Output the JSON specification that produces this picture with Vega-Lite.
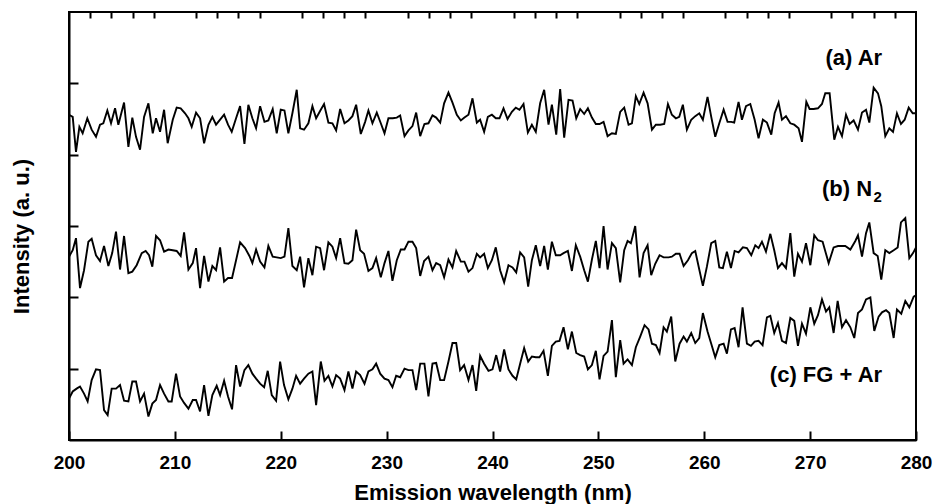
{
"$schema":"https://vega.github.io/schema/vega-lite/v6.json",
"width":847,"height":428,
"autosize":{"type":"none"},
"padding":{"left":69,"top":12,"right":19,"bottom":64},
"background":"white",
"config":{"view":{"stroke":"black","strokeWidth":2},"font":"Liberation Sans",
"axis":{"domainColor":"black","domainWidth":2,"tickColor":"black","tickWidth":2,"grid":false,"labelFont":"Liberation Sans","labelFontWeight":"bold","labelFontSize":19,"labelColor":"black","titleFont":"Liberation Sans","titleFontWeight":"bold","titleFontSize":22,"titleColor":"black"}},
"datasets":{
"labels":[{"label":"(a) Ar","nm":276.8,"intensity":5.36},{"label":"(b) N","nm":275.85,"intensity":3.52},{"label":"(c) FG + Ar","nm":276.8,"intensity":0.91}],
"subscripts":[{"label":"2","nm":275.9,"intensity":3.52}],
"spectra":[
{"series":"Ar","nm":200.0,"intensity":4.56},{"series":"Ar","nm":200.35,"intensity":4.53},{"series":"Ar","nm":200.66,"intensity":4.04},{"series":"Ar","nm":200.98,"intensity":4.39},{"series":"Ar","nm":201.29,"intensity":4.30},{"series":"Ar","nm":201.73,"intensity":4.51},{"series":"Ar","nm":202.14,"intensity":4.35},{"series":"Ar","nm":202.55,"intensity":4.25},{"series":"Ar","nm":202.93,"intensity":4.42},{"series":"Ar","nm":203.24,"intensity":4.44},{"series":"Ar","nm":203.62,"intensity":4.62},{"series":"Ar","nm":203.97,"intensity":4.44},{"series":"Ar","nm":204.35,"intensity":4.65},{"series":"Ar","nm":204.66,"intensity":4.42},{"series":"Ar","nm":205.20,"intensity":4.73},{"series":"Ar","nm":205.61,"intensity":4.11},{"series":"Ar","nm":205.98,"intensity":4.52},{"series":"Ar","nm":206.33,"intensity":4.25},{"series":"Ar","nm":206.71,"intensity":4.07},{"series":"Ar","nm":207.09,"intensity":4.53},{"series":"Ar","nm":207.50,"intensity":4.72},{"series":"Ar","nm":207.91,"intensity":4.30},{"series":"Ar","nm":208.22,"intensity":4.51},{"series":"Ar","nm":208.60,"intensity":4.32},{"series":"Ar","nm":208.98,"intensity":4.63},{"series":"Ar","nm":209.32,"intensity":4.16},{"series":"Ar","nm":209.80,"intensity":4.49},{"series":"Ar","nm":210.17,"intensity":4.66},{"series":"Ar","nm":210.55,"intensity":4.65},{"series":"Ar","nm":210.96,"intensity":4.58},{"series":"Ar","nm":211.28,"intensity":4.51},{"series":"Ar","nm":211.59,"intensity":4.39},{"series":"Ar","nm":212.00,"intensity":4.59},{"series":"Ar","nm":212.38,"intensity":4.51},{"series":"Ar","nm":212.76,"intensity":4.16},{"series":"Ar","nm":213.17,"intensity":4.42},{"series":"Ar","nm":213.54,"intensity":4.53},{"series":"Ar","nm":213.89,"intensity":4.42},{"series":"Ar","nm":214.27,"intensity":4.49},{"series":"Ar","nm":214.65,"intensity":4.56},{"series":"Ar","nm":215.02,"intensity":4.42},{"series":"Ar","nm":215.37,"intensity":4.32},{"series":"Ar","nm":215.78,"intensity":4.51},{"series":"Ar","nm":216.16,"intensity":4.68},{"series":"Ar","nm":216.57,"intensity":4.15},{"series":"Ar","nm":216.94,"intensity":4.70},{"series":"Ar","nm":217.32,"intensity":4.51},{"series":"Ar","nm":217.67,"intensity":4.37},{"series":"Ar","nm":218.05,"intensity":4.68},{"series":"Ar","nm":218.46,"intensity":4.46},{"series":"Ar","nm":218.83,"intensity":4.48},{"series":"Ar","nm":219.24,"intensity":4.64},{"series":"Ar","nm":219.62,"intensity":4.30},{"series":"Ar","nm":220.00,"intensity":4.63},{"series":"Ar","nm":220.35,"intensity":4.62},{"series":"Ar","nm":220.72,"intensity":4.30},{"series":"Ar","nm":221.10,"intensity":4.58},{"series":"Ar","nm":221.51,"intensity":4.91},{"series":"Ar","nm":221.83,"intensity":4.37},{"series":"Ar","nm":222.20,"intensity":4.35},{"series":"Ar","nm":222.61,"intensity":4.44},{"series":"Ar","nm":222.99,"intensity":4.68},{"series":"Ar","nm":223.34,"intensity":4.51},{"series":"Ar","nm":223.78,"intensity":4.63},{"series":"Ar","nm":224.09,"intensity":4.71},{"series":"Ar","nm":224.50,"intensity":4.45},{"series":"Ar","nm":224.88,"intensity":4.44},{"series":"Ar","nm":225.23,"intensity":4.34},{"series":"Ar","nm":225.61,"intensity":4.64},{"series":"Ar","nm":226.02,"intensity":4.44},{"series":"Ar","nm":226.39,"intensity":4.48},{"series":"Ar","nm":226.77,"intensity":4.54},{"series":"Ar","nm":227.12,"intensity":4.70},{"series":"Ar","nm":227.56,"intensity":4.29},{"series":"Ar","nm":227.97,"intensity":4.46},{"series":"Ar","nm":228.28,"intensity":4.62},{"series":"Ar","nm":228.66,"intensity":4.44},{"series":"Ar","nm":229.07,"intensity":4.59},{"series":"Ar","nm":229.45,"intensity":4.44},{"series":"Ar","nm":229.80,"intensity":4.30},{"series":"Ar","nm":230.17,"intensity":4.51},{"series":"Ar","nm":230.58,"intensity":4.51},{"series":"Ar","nm":230.96,"intensity":4.52},{"series":"Ar","nm":231.28,"intensity":4.55},{"series":"Ar","nm":231.69,"intensity":4.26},{"series":"Ar","nm":232.06,"intensity":4.34},{"series":"Ar","nm":232.44,"intensity":4.40},{"series":"Ar","nm":232.79,"intensity":4.59},{"series":"Ar","nm":233.17,"intensity":4.26},{"series":"Ar","nm":233.57,"intensity":4.43},{"series":"Ar","nm":233.95,"intensity":4.44},{"series":"Ar","nm":234.33,"intensity":4.55},{"series":"Ar","nm":234.68,"intensity":4.52},{"series":"Ar","nm":235.06,"intensity":4.45},{"series":"Ar","nm":235.43,"intensity":4.72},{"series":"Ar","nm":235.84,"intensity":4.87},{"series":"Ar","nm":236.22,"intensity":4.73},{"series":"Ar","nm":236.63,"intensity":4.56},{"series":"Ar","nm":237.01,"intensity":4.48},{"series":"Ar","nm":237.35,"intensity":4.52},{"series":"Ar","nm":237.73,"intensity":4.56},{"series":"Ar","nm":238.11,"intensity":4.79},{"series":"Ar","nm":238.52,"intensity":4.45},{"series":"Ar","nm":238.83,"intensity":4.49},{"series":"Ar","nm":239.21,"intensity":4.32},{"series":"Ar","nm":239.56,"intensity":4.53},{"series":"Ar","nm":239.94,"intensity":4.56},{"series":"Ar","nm":240.31,"intensity":4.51},{"series":"Ar","nm":240.66,"intensity":4.51},{"series":"Ar","nm":241.04,"intensity":4.65},{"series":"Ar","nm":241.42,"intensity":4.50},{"series":"Ar","nm":241.83,"intensity":4.60},{"series":"Ar","nm":242.20,"intensity":4.66},{"series":"Ar","nm":242.55,"intensity":4.63},{"series":"Ar","nm":242.93,"intensity":4.71},{"series":"Ar","nm":243.34,"intensity":4.31},{"series":"Ar","nm":243.72,"intensity":4.42},{"series":"Ar","nm":244.09,"intensity":4.32},{"series":"Ar","nm":244.50,"intensity":4.72},{"series":"Ar","nm":244.88,"intensity":4.91},{"series":"Ar","nm":245.29,"intensity":4.42},{"series":"Ar","nm":245.61,"intensity":4.70},{"series":"Ar","nm":246.02,"intensity":4.28},{"series":"Ar","nm":246.39,"intensity":4.92},{"series":"Ar","nm":246.77,"intensity":4.24},{"series":"Ar","nm":247.18,"intensity":4.77},{"series":"Ar","nm":247.56,"intensity":4.76},{"series":"Ar","nm":247.91,"intensity":4.51},{"series":"Ar","nm":248.28,"intensity":4.64},{"series":"Ar","nm":248.66,"intensity":4.57},{"series":"Ar","nm":249.01,"intensity":4.65},{"series":"Ar","nm":249.39,"intensity":4.52},{"series":"Ar","nm":249.76,"intensity":4.43},{"series":"Ar","nm":250.11,"intensity":4.43},{"series":"Ar","nm":250.49,"intensity":4.46},{"series":"Ar","nm":250.87,"intensity":4.26},{"series":"Ar","nm":251.28,"intensity":4.30},{"series":"Ar","nm":251.65,"intensity":4.29},{"series":"Ar","nm":252.06,"intensity":4.60},{"series":"Ar","nm":252.44,"intensity":4.66},{"series":"Ar","nm":252.85,"intensity":4.42},{"series":"Ar","nm":253.17,"intensity":4.44},{"series":"Ar","nm":253.54,"intensity":4.82},{"series":"Ar","nm":253.86,"intensity":4.71},{"series":"Ar","nm":254.27,"intensity":4.87},{"series":"Ar","nm":254.65,"intensity":4.72},{"series":"Ar","nm":255.06,"intensity":4.35},{"series":"Ar","nm":255.43,"intensity":4.42},{"series":"Ar","nm":255.84,"intensity":4.42},{"series":"Ar","nm":256.22,"intensity":4.43},{"series":"Ar","nm":256.57,"intensity":4.71},{"series":"Ar","nm":256.94,"intensity":4.56},{"series":"Ar","nm":257.32,"intensity":4.51},{"series":"Ar","nm":257.64,"intensity":4.53},{"series":"Ar","nm":257.98,"intensity":4.70},{"series":"Ar","nm":258.36,"intensity":4.35},{"series":"Ar","nm":258.77,"intensity":4.49},{"series":"Ar","nm":259.15,"intensity":4.54},{"series":"Ar","nm":259.53,"intensity":4.58},{"series":"Ar","nm":259.87,"intensity":4.49},{"series":"Ar","nm":260.31,"intensity":4.81},{"series":"Ar","nm":260.66,"intensity":4.53},{"series":"Ar","nm":261.04,"intensity":4.25},{"series":"Ar","nm":261.42,"intensity":4.44},{"series":"Ar","nm":261.83,"intensity":4.63},{"series":"Ar","nm":262.20,"intensity":4.46},{"series":"Ar","nm":262.55,"intensity":4.46},{"series":"Ar","nm":262.83,"intensity":4.45},{"series":"Ar","nm":263.24,"intensity":4.74},{"series":"Ar","nm":263.56,"intensity":4.49},{"series":"Ar","nm":263.94,"intensity":4.68},{"series":"Ar","nm":264.35,"intensity":4.71},{"series":"Ar","nm":264.76,"intensity":4.49},{"series":"Ar","nm":265.13,"intensity":4.23},{"series":"Ar","nm":265.54,"intensity":4.49},{"series":"Ar","nm":265.92,"intensity":4.45},{"series":"Ar","nm":266.33,"intensity":4.28},{"series":"Ar","nm":266.65,"intensity":4.58},{"series":"Ar","nm":267.02,"intensity":4.73},{"series":"Ar","nm":267.34,"intensity":4.49},{"series":"Ar","nm":267.72,"intensity":4.54},{"series":"Ar","nm":268.13,"intensity":4.44},{"series":"Ar","nm":268.50,"intensity":4.42},{"series":"Ar","nm":268.91,"intensity":4.37},{"series":"Ar","nm":269.23,"intensity":4.18},{"series":"Ar","nm":269.64,"intensity":4.74},{"series":"Ar","nm":269.95,"intensity":4.64},{"series":"Ar","nm":270.33,"intensity":4.64},{"series":"Ar","nm":270.74,"intensity":4.65},{"series":"Ar","nm":271.12,"intensity":4.71},{"series":"Ar","nm":271.43,"intensity":4.86},{"series":"Ar","nm":271.84,"intensity":4.86},{"series":"Ar","nm":272.28,"intensity":4.21},{"series":"Ar","nm":272.63,"intensity":4.39},{"series":"Ar","nm":273.01,"intensity":4.26},{"series":"Ar","nm":273.39,"intensity":4.56},{"series":"Ar","nm":273.73,"intensity":4.43},{"series":"Ar","nm":274.11,"intensity":4.48},{"series":"Ar","nm":274.52,"intensity":4.35},{"series":"Ar","nm":274.90,"intensity":4.59},{"series":"Ar","nm":275.28,"intensity":4.63},{"series":"Ar","nm":275.59,"intensity":4.45},{"series":"Ar","nm":276.00,"intensity":4.94},{"series":"Ar","nm":276.41,"intensity":4.86},{"series":"Ar","nm":276.72,"intensity":4.68},{"series":"Ar","nm":277.10,"intensity":4.26},{"series":"Ar","nm":277.48,"intensity":4.37},{"series":"Ar","nm":277.83,"intensity":4.32},{"series":"Ar","nm":278.20,"intensity":4.58},{"series":"Ar","nm":278.58,"intensity":4.43},{"series":"Ar","nm":278.93,"intensity":4.49},{"series":"Ar","nm":279.31,"intensity":4.66},{"series":"Ar","nm":279.69,"intensity":4.58},{"series":"Ar","nm":280.00,"intensity":4.58},
{"series":"N2","nm":200.0,"intensity":2.57},{"series":"N2","nm":200.35,"intensity":2.66},{"series":"N2","nm":200.66,"intensity":2.83},{"series":"N2","nm":201.04,"intensity":2.13},{"series":"N2","nm":201.42,"intensity":2.38},{"series":"N2","nm":201.83,"intensity":2.78},{"series":"N2","nm":202.14,"intensity":2.82},{"series":"N2","nm":202.55,"intensity":2.59},{"series":"N2","nm":202.93,"intensity":2.51},{"series":"N2","nm":203.31,"intensity":2.72},{"series":"N2","nm":203.72,"intensity":2.44},{"series":"N2","nm":204.08,"intensity":2.62},{"series":"N2","nm":204.44,"intensity":2.92},{"series":"N2","nm":204.82,"intensity":2.39},{"series":"N2","nm":205.20,"intensity":2.86},{"series":"N2","nm":205.61,"intensity":2.34},{"series":"N2","nm":205.98,"intensity":2.36},{"series":"N2","nm":206.39,"intensity":2.45},{"series":"N2","nm":206.87,"intensity":2.62},{"series":"N2","nm":207.24,"intensity":2.65},{"series":"N2","nm":207.56,"intensity":2.59},{"series":"N2","nm":207.87,"intensity":2.43},{"series":"N2","nm":208.22,"intensity":2.86},{"series":"N2","nm":208.60,"intensity":2.80},{"series":"N2","nm":208.98,"intensity":2.64},{"series":"N2","nm":209.39,"intensity":2.67},{"series":"N2","nm":209.80,"intensity":2.66},{"series":"N2","nm":210.17,"intensity":2.65},{"series":"N2","nm":210.55,"intensity":2.58},{"series":"N2","nm":210.87,"intensity":2.91},{"series":"N2","nm":211.28,"intensity":2.39},{"series":"N2","nm":211.69,"intensity":2.48},{"series":"N2","nm":212.00,"intensity":2.69},{"series":"N2","nm":212.38,"intensity":2.13},{"series":"N2","nm":212.76,"intensity":2.58},{"series":"N2","nm":213.17,"intensity":2.22},{"series":"N2","nm":213.54,"intensity":2.44},{"series":"N2","nm":213.89,"intensity":2.38},{"series":"N2","nm":214.27,"intensity":2.70},{"series":"N2","nm":214.65,"intensity":2.22},{"series":"N2","nm":215.02,"intensity":2.27},{"series":"N2","nm":215.40,"intensity":2.27},{"series":"N2","nm":216.16,"intensity":2.77},{"series":"N2","nm":216.63,"intensity":2.69},{"series":"N2","nm":217.04,"intensity":2.58},{"series":"N2","nm":217.32,"intensity":2.48},{"series":"N2","nm":217.67,"intensity":2.67},{"series":"N2","nm":218.05,"intensity":2.50},{"series":"N2","nm":218.46,"intensity":2.42},{"series":"N2","nm":218.83,"intensity":2.72},{"series":"N2","nm":219.24,"intensity":2.57},{"series":"N2","nm":219.62,"intensity":2.56},{"series":"N2","nm":220.00,"intensity":2.55},{"series":"N2","nm":220.35,"intensity":2.57},{"series":"N2","nm":220.72,"intensity":2.97},{"series":"N2","nm":221.10,"intensity":2.44},{"series":"N2","nm":221.51,"intensity":2.38},{"series":"N2","nm":221.83,"intensity":2.57},{"series":"N2","nm":222.20,"intensity":2.14},{"series":"N2","nm":222.61,"intensity":2.55},{"series":"N2","nm":222.99,"intensity":2.31},{"series":"N2","nm":223.34,"intensity":2.71},{"series":"N2","nm":223.72,"intensity":2.69},{"series":"N2","nm":224.09,"intensity":2.38},{"series":"N2","nm":224.50,"intensity":2.77},{"series":"N2","nm":224.88,"intensity":2.71},{"series":"N2","nm":225.23,"intensity":2.55},{"series":"N2","nm":225.61,"intensity":2.83},{"series":"N2","nm":226.02,"intensity":2.48},{"series":"N2","nm":226.39,"intensity":2.47},{"series":"N2","nm":226.77,"intensity":2.52},{"series":"N2","nm":227.12,"intensity":2.95},{"series":"N2","nm":227.50,"intensity":2.66},{"series":"N2","nm":227.87,"intensity":2.61},{"series":"N2","nm":228.28,"intensity":2.37},{"series":"N2","nm":228.66,"intensity":2.41},{"series":"N2","nm":229.01,"intensity":2.55},{"series":"N2","nm":229.45,"intensity":2.28},{"series":"N2","nm":229.80,"intensity":2.48},{"series":"N2","nm":230.17,"intensity":2.65},{"series":"N2","nm":230.55,"intensity":2.23},{"series":"N2","nm":230.96,"intensity":2.52},{"series":"N2","nm":231.34,"intensity":2.67},{"series":"N2","nm":231.69,"intensity":2.67},{"series":"N2","nm":232.06,"intensity":2.78},{"series":"N2","nm":232.44,"intensity":2.78},{"series":"N2","nm":232.79,"intensity":2.69},{"series":"N2","nm":233.17,"intensity":2.30},{"series":"N2","nm":233.54,"intensity":2.51},{"series":"N2","nm":233.95,"intensity":2.57},{"series":"N2","nm":234.33,"intensity":2.38},{"series":"N2","nm":234.68,"intensity":2.48},{"series":"N2","nm":235.06,"intensity":2.45},{"series":"N2","nm":235.43,"intensity":2.28},{"series":"N2","nm":235.84,"intensity":2.53},{"series":"N2","nm":236.22,"intensity":2.42},{"series":"N2","nm":236.57,"intensity":2.65},{"series":"N2","nm":237.01,"intensity":2.50},{"series":"N2","nm":237.35,"intensity":2.50},{"series":"N2","nm":237.73,"intensity":2.36},{"series":"N2","nm":238.11,"intensity":2.41},{"series":"N2","nm":238.52,"intensity":2.61},{"series":"N2","nm":238.83,"intensity":2.56},{"series":"N2","nm":239.21,"intensity":2.61},{"series":"N2","nm":239.56,"intensity":2.41},{"series":"N2","nm":239.94,"intensity":2.52},{"series":"N2","nm":240.31,"intensity":2.70},{"series":"N2","nm":240.72,"intensity":2.38},{"series":"N2","nm":241.10,"intensity":2.21},{"series":"N2","nm":241.51,"intensity":2.45},{"series":"N2","nm":241.89,"intensity":2.42},{"series":"N2","nm":242.24,"intensity":2.35},{"series":"N2","nm":242.61,"intensity":2.63},{"series":"N2","nm":242.99,"intensity":2.56},{"series":"N2","nm":243.37,"intensity":2.15},{"series":"N2","nm":243.72,"intensity":2.52},{"series":"N2","nm":244.09,"intensity":2.73},{"series":"N2","nm":244.50,"intensity":2.44},{"series":"N2","nm":244.88,"intensity":2.72},{"series":"N2","nm":245.23,"intensity":2.39},{"series":"N2","nm":245.61,"intensity":2.78},{"series":"N2","nm":245.98,"intensity":2.59},{"series":"N2","nm":246.39,"intensity":2.59},{"series":"N2","nm":246.71,"intensity":2.62},{"series":"N2","nm":247.12,"intensity":2.65},{"series":"N2","nm":247.50,"intensity":2.37},{"series":"N2","nm":247.87,"intensity":2.73},{"series":"N2","nm":248.28,"intensity":2.57},{"series":"N2","nm":248.66,"intensity":2.38},{"series":"N2","nm":249.01,"intensity":2.22},{"series":"N2","nm":249.39,"intensity":2.53},{"series":"N2","nm":249.76,"intensity":2.79},{"series":"N2","nm":250.11,"intensity":2.41},{"series":"N2","nm":250.49,"intensity":3.00},{"series":"N2","nm":250.87,"intensity":2.39},{"series":"N2","nm":251.28,"intensity":2.76},{"series":"N2","nm":251.65,"intensity":2.69},{"series":"N2","nm":252.06,"intensity":2.21},{"series":"N2","nm":252.44,"intensity":2.66},{"series":"N2","nm":252.76,"intensity":2.79},{"series":"N2","nm":253.07,"intensity":2.76},{"series":"N2","nm":253.48,"intensity":3.00},{"series":"N2","nm":253.89,"intensity":2.28},{"series":"N2","nm":254.27,"intensity":2.62},{"series":"N2","nm":254.65,"intensity":2.73},{"series":"N2","nm":254.99,"intensity":2.31},{"series":"N2","nm":255.37,"intensity":2.47},{"series":"N2","nm":255.78,"intensity":2.59},{"series":"N2","nm":256.16,"intensity":2.56},{"series":"N2","nm":256.63,"intensity":2.56},{"series":"N2","nm":256.94,"intensity":2.57},{"series":"N2","nm":257.32,"intensity":2.61},{"series":"N2","nm":257.67,"intensity":2.61},{"series":"N2","nm":258.05,"intensity":2.44},{"series":"N2","nm":258.46,"intensity":2.52},{"series":"N2","nm":258.83,"intensity":2.62},{"series":"N2","nm":259.15,"intensity":2.65},{"series":"N2","nm":259.53,"intensity":2.39},{"series":"N2","nm":259.87,"intensity":2.16},{"series":"N2","nm":260.25,"intensity":2.43},{"series":"N2","nm":260.66,"intensity":2.76},{"series":"N2","nm":261.04,"intensity":2.79},{"series":"N2","nm":261.42,"intensity":2.42},{"series":"N2","nm":261.76,"intensity":2.41},{"series":"N2","nm":262.14,"intensity":2.64},{"series":"N2","nm":262.52,"intensity":2.41},{"series":"N2","nm":262.87,"intensity":2.65},{"series":"N2","nm":263.24,"intensity":2.63},{"series":"N2","nm":263.65,"intensity":2.70},{"series":"N2","nm":264.03,"intensity":2.69},{"series":"N2","nm":264.44,"intensity":2.59},{"series":"N2","nm":264.82,"intensity":2.73},{"series":"N2","nm":265.13,"intensity":2.69},{"series":"N2","nm":265.45,"intensity":2.78},{"series":"N2","nm":265.83,"intensity":2.64},{"series":"N2","nm":266.24,"intensity":2.89},{"series":"N2","nm":266.61,"intensity":2.66},{"series":"N2","nm":266.96,"intensity":2.41},{"series":"N2","nm":267.34,"intensity":2.48},{"series":"N2","nm":267.72,"intensity":2.41},{"series":"N2","nm":268.13,"intensity":2.90},{"series":"N2","nm":268.50,"intensity":2.29},{"series":"N2","nm":268.85,"intensity":2.61},{"series":"N2","nm":269.23,"intensity":2.50},{"series":"N2","nm":269.61,"intensity":2.76},{"series":"N2","nm":270.02,"intensity":2.45},{"series":"N2","nm":270.39,"intensity":2.87},{"series":"N2","nm":270.74,"intensity":2.80},{"series":"N2","nm":271.18,"intensity":2.78},{"series":"N2","nm":271.75,"intensity":2.48},{"series":"N2","nm":272.22,"intensity":2.70},{"series":"N2","nm":272.63,"intensity":2.72},{"series":"N2","nm":273.32,"intensity":2.72},{"series":"N2","nm":273.80,"intensity":2.67},{"series":"N2","nm":274.27,"intensity":2.79},{"series":"N2","nm":274.52,"intensity":2.87},{"series":"N2","nm":274.90,"intensity":2.57},{"series":"N2","nm":275.28,"intensity":2.90},{"series":"N2","nm":275.59,"intensity":3.05},{"series":"N2","nm":276.00,"intensity":2.62},{"series":"N2","nm":276.38,"intensity":2.58},{"series":"N2","nm":276.72,"intensity":2.25},{"series":"N2","nm":277.10,"intensity":2.66},{"series":"N2","nm":277.48,"intensity":2.62},{"series":"N2","nm":277.89,"intensity":2.66},{"series":"N2","nm":278.27,"intensity":2.70},{"series":"N2","nm":278.58,"intensity":3.05},{"series":"N2","nm":278.99,"intensity":3.11},{"series":"N2","nm":279.37,"intensity":2.55},{"series":"N2","nm":279.72,"intensity":2.62},{"series":"N2","nm":280.00,"intensity":2.70},
{"series":"FG","nm":200.0,"intensity":0.58},{"series":"FG","nm":200.35,"intensity":0.68},{"series":"FG","nm":200.72,"intensity":0.72},{"series":"FG","nm":201.04,"intensity":0.75},{"series":"FG","nm":201.42,"intensity":0.65},{"series":"FG","nm":201.76,"intensity":0.54},{"series":"FG","nm":202.14,"intensity":0.84},{"series":"FG","nm":202.55,"intensity":0.99},{"series":"FG","nm":202.93,"intensity":0.98},{"series":"FG","nm":203.31,"intensity":0.42},{"series":"FG","nm":203.65,"intensity":0.35},{"series":"FG","nm":204.03,"intensity":0.72},{"series":"FG","nm":204.44,"intensity":0.72},{"series":"FG","nm":204.82,"intensity":0.77},{"series":"FG","nm":205.20,"intensity":0.55},{"series":"FG","nm":205.61,"intensity":0.54},{"series":"FG","nm":205.98,"intensity":0.82},{"series":"FG","nm":206.33,"intensity":0.82},{"series":"FG","nm":206.71,"intensity":0.54},{"series":"FG","nm":207.09,"intensity":0.65},{"series":"FG","nm":207.50,"intensity":0.33},{"series":"FG","nm":207.87,"intensity":0.51},{"series":"FG","nm":208.22,"intensity":0.56},{"series":"FG","nm":208.60,"intensity":0.77},{"series":"FG","nm":208.98,"intensity":0.65},{"series":"FG","nm":209.39,"intensity":0.54},{"series":"FG","nm":209.70,"intensity":0.54},{"series":"FG","nm":210.11,"intensity":0.93},{"series":"FG","nm":210.49,"intensity":0.61},{"series":"FG","nm":210.87,"intensity":0.52},{"series":"FG","nm":211.28,"intensity":0.44},{"series":"FG","nm":211.69,"intensity":0.56},{"series":"FG","nm":212.00,"intensity":0.56},{"series":"FG","nm":212.38,"intensity":0.40},{"series":"FG","nm":212.76,"intensity":0.77},{"series":"FG","nm":213.17,"intensity":0.34},{"series":"FG","nm":213.54,"intensity":0.63},{"series":"FG","nm":213.95,"intensity":0.76},{"series":"FG","nm":214.27,"intensity":0.63},{"series":"FG","nm":214.65,"intensity":0.83},{"series":"FG","nm":215.02,"intensity":0.61},{"series":"FG","nm":215.40,"intensity":0.43},{"series":"FG","nm":215.78,"intensity":1.05},{"series":"FG","nm":216.16,"intensity":0.75},{"series":"FG","nm":216.57,"intensity":0.98},{"series":"FG","nm":216.94,"intensity":1.05},{"series":"FG","nm":217.32,"intensity":0.93},{"series":"FG","nm":217.67,"intensity":0.86},{"series":"FG","nm":218.05,"intensity":0.79},{"series":"FG","nm":218.43,"intensity":0.74},{"series":"FG","nm":218.77,"intensity":0.97},{"series":"FG","nm":219.15,"intensity":0.63},{"series":"FG","nm":219.56,"intensity":0.55},{"series":"FG","nm":219.94,"intensity":1.10},{"series":"FG","nm":220.31,"intensity":0.77},{"series":"FG","nm":220.72,"intensity":0.57},{"series":"FG","nm":221.10,"intensity":0.72},{"series":"FG","nm":221.45,"intensity":0.90},{"series":"FG","nm":221.83,"intensity":0.79},{"series":"FG","nm":222.20,"intensity":0.86},{"series":"FG","nm":222.61,"intensity":0.93},{"series":"FG","nm":222.99,"intensity":0.96},{"series":"FG","nm":223.34,"intensity":0.49},{"series":"FG","nm":223.78,"intensity":1.10},{"series":"FG","nm":224.13,"intensity":0.83},{"series":"FG","nm":224.50,"intensity":0.90},{"series":"FG","nm":224.88,"intensity":0.75},{"series":"FG","nm":225.23,"intensity":0.91},{"series":"FG","nm":225.61,"intensity":0.86},{"series":"FG","nm":226.02,"intensity":0.70},{"series":"FG","nm":226.39,"intensity":0.96},{"series":"FG","nm":226.77,"intensity":0.72},{"series":"FG","nm":227.12,"intensity":0.96},{"series":"FG","nm":227.50,"intensity":0.91},{"series":"FG","nm":227.91,"intensity":0.79},{"series":"FG","nm":228.28,"intensity":0.96},{"series":"FG","nm":228.66,"intensity":0.99},{"series":"FG","nm":229.01,"intensity":1.07},{"series":"FG","nm":229.39,"intensity":0.93},{"series":"FG","nm":229.80,"intensity":0.86},{"series":"FG","nm":230.17,"intensity":0.84},{"series":"FG","nm":230.55,"intensity":0.74},{"series":"FG","nm":230.90,"intensity":0.90},{"series":"FG","nm":231.28,"intensity":0.88},{"series":"FG","nm":231.69,"intensity":1.00},{"series":"FG","nm":232.06,"intensity":0.98},{"series":"FG","nm":232.44,"intensity":0.98},{"series":"FG","nm":232.79,"intensity":0.70},{"series":"FG","nm":233.17,"intensity":1.07},{"series":"FG","nm":233.57,"intensity":1.07},{"series":"FG","nm":233.95,"intensity":0.61},{"series":"FG","nm":234.33,"intensity":1.07},{"series":"FG","nm":234.68,"intensity":1.08},{"series":"FG","nm":235.06,"intensity":0.84},{"series":"FG","nm":235.43,"intensity":0.84},{"series":"FG","nm":235.84,"intensity":1.10},{"series":"FG","nm":236.22,"intensity":1.36},{"series":"FG","nm":236.57,"intensity":1.36},{"series":"FG","nm":236.94,"intensity":0.98},{"series":"FG","nm":237.32,"intensity":1.05},{"series":"FG","nm":237.73,"intensity":0.84},{"series":"FG","nm":238.11,"intensity":1.05},{"series":"FG","nm":238.46,"intensity":0.69},{"series":"FG","nm":238.83,"intensity":1.18},{"series":"FG","nm":239.21,"intensity":1.07},{"series":"FG","nm":239.62,"intensity":0.97},{"series":"FG","nm":240.00,"intensity":0.99},{"series":"FG","nm":240.35,"intensity":1.19},{"series":"FG","nm":240.72,"intensity":0.96},{"series":"FG","nm":241.10,"intensity":1.27},{"series":"FG","nm":241.51,"intensity":0.99},{"series":"FG","nm":241.89,"intensity":0.90},{"series":"FG","nm":242.24,"intensity":0.85},{"series":"FG","nm":242.61,"intensity":1.07},{"series":"FG","nm":242.99,"intensity":1.29},{"series":"FG","nm":243.37,"intensity":1.10},{"series":"FG","nm":243.72,"intensity":1.17},{"series":"FG","nm":244.09,"intensity":1.16},{"series":"FG","nm":244.44,"intensity":1.16},{"series":"FG","nm":244.82,"intensity":1.25},{"series":"FG","nm":245.23,"intensity":0.90},{"series":"FG","nm":245.61,"intensity":1.32},{"series":"FG","nm":245.98,"intensity":1.38},{"series":"FG","nm":246.33,"intensity":1.39},{"series":"FG","nm":246.71,"intensity":1.58},{"series":"FG","nm":247.12,"intensity":1.27},{"series":"FG","nm":247.50,"intensity":1.52},{"series":"FG","nm":247.91,"intensity":1.22},{"series":"FG","nm":248.28,"intensity":1.19},{"series":"FG","nm":248.66,"intensity":1.17},{"series":"FG","nm":249.01,"intensity":0.99},{"series":"FG","nm":249.39,"intensity":1.05},{"series":"FG","nm":249.76,"intensity":1.25},{"series":"FG","nm":250.11,"intensity":0.85},{"series":"FG","nm":250.49,"intensity":1.18},{"series":"FG","nm":250.87,"intensity":1.24},{"series":"FG","nm":251.28,"intensity":1.68},{"series":"FG","nm":251.65,"intensity":0.88},{"series":"FG","nm":252.06,"intensity":1.40},{"series":"FG","nm":252.38,"intensity":1.07},{"series":"FG","nm":252.76,"intensity":1.13},{"series":"FG","nm":253.17,"intensity":1.05},{"series":"FG","nm":253.54,"intensity":1.30},{"series":"FG","nm":253.95,"intensity":1.45},{"series":"FG","nm":254.36,"intensity":1.61},{"series":"FG","nm":254.74,"intensity":1.55},{"series":"FG","nm":255.06,"intensity":1.35},{"series":"FG","nm":255.43,"intensity":1.33},{"series":"FG","nm":255.78,"intensity":1.22},{"series":"FG","nm":256.16,"intensity":1.58},{"series":"FG","nm":256.47,"intensity":1.52},{"series":"FG","nm":256.88,"intensity":1.73},{"series":"FG","nm":257.26,"intensity":1.10},{"series":"FG","nm":257.67,"intensity":1.35},{"series":"FG","nm":258.05,"intensity":1.45},{"series":"FG","nm":258.36,"intensity":1.38},{"series":"FG","nm":258.77,"intensity":1.50},{"series":"FG","nm":259.15,"intensity":1.36},{"series":"FG","nm":259.53,"intensity":1.43},{"series":"FG","nm":259.87,"intensity":1.78},{"series":"FG","nm":260.31,"intensity":1.52},{"series":"FG","nm":260.66,"intensity":1.35},{"series":"FG","nm":261.04,"intensity":1.16},{"series":"FG","nm":261.42,"intensity":1.33},{"series":"FG","nm":261.83,"intensity":1.35},{"series":"FG","nm":262.14,"intensity":1.21},{"series":"FG","nm":262.52,"intensity":1.55},{"series":"FG","nm":262.87,"intensity":1.57},{"series":"FG","nm":263.24,"intensity":1.30},{"series":"FG","nm":263.62,"intensity":1.86},{"series":"FG","nm":264.03,"intensity":1.35},{"series":"FG","nm":264.41,"intensity":1.32},{"series":"FG","nm":264.76,"intensity":1.38},{"series":"FG","nm":265.13,"intensity":1.39},{"series":"FG","nm":265.51,"intensity":1.33},{"series":"FG","nm":265.92,"intensity":1.72},{"series":"FG","nm":266.24,"intensity":1.74},{"series":"FG","nm":266.61,"intensity":1.50},{"series":"FG","nm":266.96,"intensity":1.64},{"series":"FG","nm":267.34,"intensity":1.39},{"series":"FG","nm":267.72,"intensity":1.36},{"series":"FG","nm":268.13,"intensity":1.71},{"series":"FG","nm":268.50,"intensity":1.67},{"series":"FG","nm":268.85,"intensity":1.32},{"series":"FG","nm":269.23,"intensity":1.63},{"series":"FG","nm":269.61,"intensity":1.49},{"series":"FG","nm":270.02,"intensity":1.86},{"series":"FG","nm":270.39,"intensity":1.63},{"series":"FG","nm":270.74,"intensity":1.75},{"series":"FG","nm":271.12,"intensity":1.97},{"series":"FG","nm":271.50,"intensity":1.80},{"series":"FG","nm":271.81,"intensity":1.86},{"series":"FG","nm":272.22,"intensity":1.50},{"series":"FG","nm":272.60,"intensity":1.95},{"series":"FG","nm":273.01,"intensity":1.58},{"series":"FG","nm":273.39,"intensity":1.68},{"series":"FG","nm":273.80,"intensity":1.58},{"series":"FG","nm":274.17,"intensity":1.43},{"series":"FG","nm":274.52,"intensity":1.78},{"series":"FG","nm":274.90,"intensity":1.83},{"series":"FG","nm":275.28,"intensity":1.97},{"series":"FG","nm":275.69,"intensity":2.00},{"series":"FG","nm":276.06,"intensity":1.53},{"series":"FG","nm":276.47,"intensity":1.73},{"series":"FG","nm":276.79,"intensity":1.79},{"series":"FG","nm":277.17,"intensity":1.82},{"series":"FG","nm":277.48,"intensity":1.78},{"series":"FG","nm":277.89,"intensity":1.43},{"series":"FG","nm":278.20,"intensity":1.83},{"series":"FG","nm":278.61,"intensity":1.77},{"series":"FG","nm":278.99,"intensity":1.95},{"series":"FG","nm":279.37,"intensity":1.86},{"series":"FG","nm":279.78,"intensity":2.01},{"series":"FG","nm":280.00,"intensity":2.03}
]},
"layer":[
{"data":{"name":"spectra"},
 "mark":{"type":"line","color":"black","strokeWidth":1.9,"clip":true},
 "encoding":{
  "x":{"field":"nm","type":"quantitative","scale":{"domain":[200,280],"nice":false,"zero":false},
       "axis":{"values":[200,210,220,230,240,250,260,270,280],"tickSize":-9,"labelPadding":22,"labelFlush":false,"title":"Emission wavelength (nm)","titlePadding":10}},
  "y":{"field":"intensity","type":"quantitative","scale":{"domain":[0,6],"nice":false,"zero":false},
       "axis":{"values":[1,2,3,4,5],"labels":false,"tickSize":-9,"title":"Intensity (a. u.)","titlePadding":35,"titleY":224}},
  "detail":{"field":"series"}
 }},
{"data":{"name":"labels"},
 "mark":{"type":"text","align":"right","baseline":"middle","fontSize":22,"fontWeight":"bold","font":"Liberation Sans","color":"black"},
 "encoding":{
  "x":{"field":"nm","type":"quantitative",
       "axis":{"values":[202,204,206,208,212,214,216,218,222,224,226,228,232,234,236,238,242,244,246,248,252,254,256,258,262,264,266,268,272,274,276,278],"labels":false,"tickSize":-6,"title":null,"domain":false}},
  "y":{"field":"intensity","type":"quantitative"},
  "text":{"field":"label"}
 }},
{"data":{"name":"subscripts"},
 "mark":{"type":"text","align":"left","baseline":"middle","dx":1,"dy":8,"fontSize":15,"fontWeight":"bold","font":"Liberation Sans","color":"black"},
 "encoding":{
  "x":{"field":"nm","type":"quantitative","axis":null},
  "y":{"field":"intensity","type":"quantitative"},
  "text":{"field":"label"}
 }}
],
"resolve":{"axis":{"x":"independent"}}
}
